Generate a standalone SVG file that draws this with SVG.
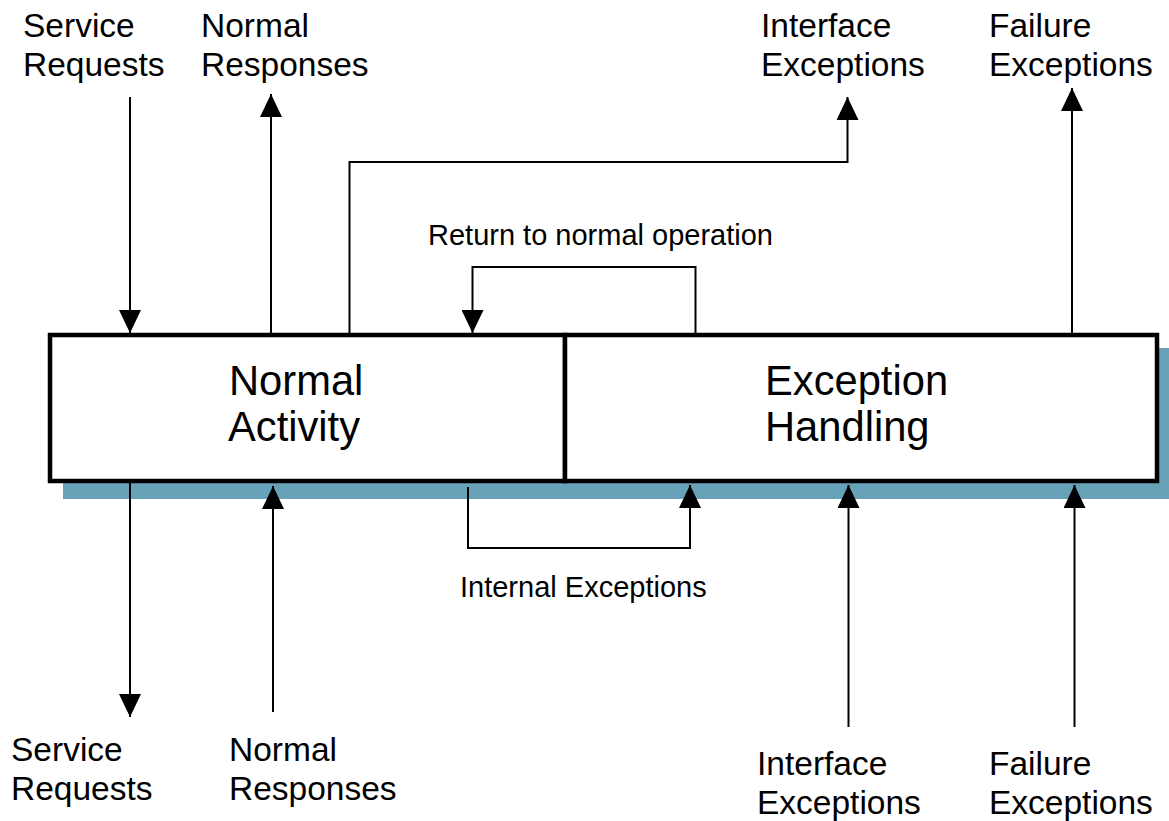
<svg xmlns="http://www.w3.org/2000/svg" width="1169" height="821" viewBox="0 0 1169 821">
<style>
.lbl{font-family:"Liberation Sans",Arial,sans-serif;font-size:33.5px;fill:#000}
.big{font-family:"Liberation Sans",Arial,sans-serif;font-size:41.7px;fill:#000}
.sm{font-family:"Liberation Sans",Arial,sans-serif;font-size:29px;fill:#000}
.box{fill:#fff;stroke:#000;stroke-width:4.5}
.c{fill:none;stroke:#000;stroke-width:2}
.a{marker-end:url(#ah)}
</style>
<defs>
<marker id="ah" markerUnits="userSpaceOnUse" markerWidth="23" markerHeight="22" viewBox="0 0 23 22" refX="23" refY="11" orient="auto"><path d="M0,0 L23,11 L0,22 z" fill="#000"/></marker>
</defs>
<rect id="shadow" x="63" y="348" width="1110" height="151" fill="#67a2b8"/>
<g id="normal-activity">
<rect class="box" x="50" y="335" width="515" height="146"/>
<text class="big" x="229" y="395">Normal</text>
<text class="big" x="228" y="441">Activity</text>
</g>
<g id="exception-handling">
<rect class="box" x="565" y="335" width="592" height="146"/>
<text class="big" x="765" y="395">Exception</text>
<text class="big" x="765" y="441">Handling</text>
</g>
<g id="connectors">
<path class="c a" d="M130,97 V333"/>
<path class="c a" d="M271,333 V94"/>
<path class="c a" d="M349.5,333 V162 H847.5 V97"/>
<path class="c a" d="M1072,333 V88"/>
<path class="c a" d="M695.5,333 V267 H472.5 V333"/>
<path class="c a" d="M130,483 V717"/>
<path class="c a" d="M273,712 V486"/>
<path class="c a" d="M468,487 V548 H690 V485"/>
<path class="c a" d="M848.5,727 V485"/>
<path class="c a" d="M1074.5,727 V485"/>
</g>
<g id="labels">
<text class="lbl" x="23" y="36.5">Service</text>
<text class="lbl" x="23" y="76">Requests</text>
<text class="lbl" x="201" y="36.5">Normal</text>
<text class="lbl" x="201" y="76">Responses</text>
<text class="lbl" x="761" y="36.5">Interface</text>
<text class="lbl" x="761" y="76">Exceptions</text>
<text class="lbl" x="989" y="36.5">Failure</text>
<text class="lbl" x="989" y="76">Exceptions</text>
<text class="sm" x="428" y="245">Return to normal operation</text>
<text class="sm" x="460" y="597">Internal Exceptions</text>
<text class="lbl" x="11" y="761">Service</text>
<text class="lbl" x="11" y="800">Requests</text>
<text class="lbl" x="229" y="761">Normal</text>
<text class="lbl" x="229" y="800">Responses</text>
<text class="lbl" x="757" y="775">Interface</text>
<text class="lbl" x="757" y="814">Exceptions</text>
<text class="lbl" x="989" y="775">Failure</text>
<text class="lbl" x="989" y="814">Exceptions</text>
</g>
</svg>
